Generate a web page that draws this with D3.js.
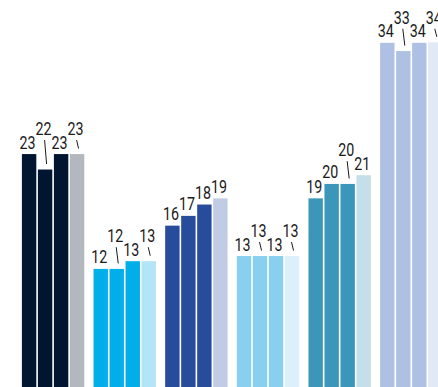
<!DOCTYPE html>
<html>
<head>
<meta charset="utf-8">
<script src="https://cdn.jsdelivr.net/npm/d3@7"></script>
<style>
  html, body { margin: 0; padding: 0; background: #fff; }
  svg { display: block; }
  .label { font-family: Roboto, "Liberation Sans", Arial, sans-serif; font-weight: 400; font-size: 18.5px; fill: #1a1a1a; }
</style>
</head>
<body>
<svg id="chart" width="438" height="387"></svg>
<script>
// Six groups of four columns each
const groups = ["G1", "G2", "G3", "G4", "G5", "G6"];
const series = ["s1", "s2", "s3", "s4"];

// Column values per group (labels show them rounded)
const g1 = [23.1, 21.6, 23.1, 23.1];
const g2 = [11.95, 11.95, 12.7, 12.7];
const g3 = [16.15, 17.1, 18.2, 18.8];
const g4 = [13.2, 13.2, 13.2, 13.2];
const g5 = [18.8, 20.2, 20.2, 21.05];
const g6 = [33.9, 33.1, 33.9, 33.95];
const groupValues = [g1, g2, g3, g4, g5, g6];

// Column colours: three strong shades and one pale shade per group
const darkColors  = ["#011530", "#00aeea", "#264c9b", "#89cff0", "#3c96b9", "#aec1e5"];
const lightColors = ["#b3b8bf", "#b3e5f8", "#c0cbe4", "#dcf0fb", "#c5dfea", "#e2e9f6"];

const svg = d3.select("#chart");

const groupWidth = 62.4;
const groupStep = 71.64;
const x0 = d3.scaleBand()
  .domain(groups)
  .range([21.9, 21.9 + 5 * groupStep + groupWidth])
  .paddingInner((groupStep - groupWidth) / groupStep)
  .paddingOuter(0);

const x1 = d3.scaleBand()
  .domain(series)
  .range([0, x0.bandwidth()])
  .paddingInner(0.1)
  .paddingOuter(0);

const y = d3.scaleLinear().domain([0, 34]).range([392, 41.8]);

const fmt = d3.format(".0f");

const gSel = svg.selectAll("g.group")
  .data(groups.map((name, gi) => ({ name, gi, values: groupValues[gi] })))
  .join("g")
  .attr("class", "group")
  .attr("transform", d => `translate(${x0(d.name)},0)`);

gSel.selectAll("rect")
  .data(d => d.values.map((v, i) => ({ v, i, gi: d.gi })))
  .join("rect")
  .attr("x", d => x1(series[d.i]))
  .attr("y", d => y(d.v))
  .attr("width", x1.bandwidth())
  .attr("height", d => y(0) - y(d.v))
  .attr("fill", d => d.i === 3 ? lightColors[d.gi] : darkColors[d.gi]);

// Value labels: sit above each column; a label that is level with the
// previous one, or sunk between two taller neighbours, is lifted one row
// and tied to its column with a short leader line.
const gapAbove = 5.5;
const rowLift = 13.5;
const squeeze = 0.77; // condensed digits
gSel.each(function (d) {
  const g = d3.select(this);
  const vals = d.values;
  const tops = vals.map(v => y(v));
  const base = tops.map(t => t - gapAbove);
  const raised = [];
  vals.forEach((v, i) => {
    let lift = false;
    if (i > 0 && i < vals.length - 1 &&
        tops[i - 1] < tops[i] - 3 && tops[i + 1] < tops[i] - 3) lift = true;
    else if (i > 0 && !raised[i - 1] && Math.abs(base[i] - base[i - 1]) < 4) lift = true;
    raised.push(lift);
  });
  vals.forEach((v, i) => {
    const cx = x1(series[i]) + x1.bandwidth() / 2;
    const lx = cx - 1.5;
    let ly = base[i];
    if (raised[i]) {
      const nb = [];
      if (i > 0) nb.push(base[i - 1]);
      if (i < vals.length - 1) nb.push(base[i + 1]);
      ly = d3.min(nb) - rowLift;
      g.append("line")
        .attr("x1", lx + 1).attr("y1", ly + 5)
        .attr("x2", cx + 1.5).attr("y2", tops[i] - gapAbove)
        .attr("stroke", "#1a1a1a")
        .attr("stroke-width", 1);
    }
    g.append("text")
      .attr("class", "label")
      .attr("transform", `translate(${lx},${ly}) scale(${squeeze},1)`)
      .attr("text-anchor", "middle")
      .text(fmt(v));
  });
});
</script>
</body>
</html>
